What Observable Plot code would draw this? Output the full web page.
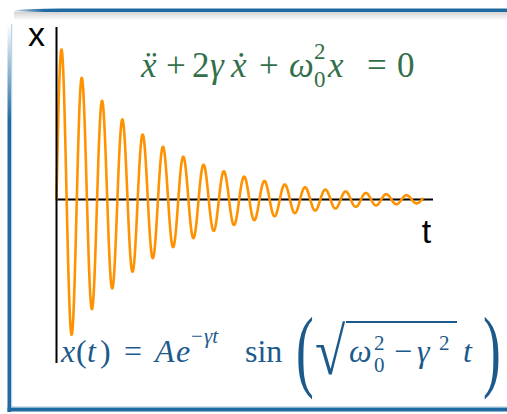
<!DOCTYPE html>
<html>
<head>
<meta charset="utf-8">
<script src="https://cdn.jsdelivr.net/npm/d3@7"></script>
<script src="https://cdn.jsdelivr.net/npm/@observablehq/plot@0.6"></script>
<style>
  html, body { margin: 0; padding: 0; background: #fff; }
  #chart svg { display: block; }
</style>
</head>
<body>
<div id="chart"></div>
<script>
// Damped harmonic oscillator: x(t) = A e^{-γt} sin(√(ω0² − γ²) t)
const amplitude = 1;          // A
const gamma = 0.388;          // γ, damping rate
const omegaDamped = 11.67;    // √(ω0² − γ²)
const tSpan = [0, 9.71];      // time range of the trace
const tAxis = [0, 10];        // extent of the t axis
const xAxis = [-1.038, 1.089];// extent of the x axis
const axisLabels = ["x", "t"];

const orange = "#ff9200";
const green = "#33704a";
const blue = "#1d5a8c";
const frameBlue = "#1f6aa0";

// trace sampled along the time span using the stated solution
const trace = d3.range(tSpan[0], tSpan[1], 0.004).concat([tSpan[1]]).map(t => ({
  t,
  x: amplitude * Math.exp(-gamma * t) * Math.sin(omegaDamped * t)
}));

const plot = Plot.plot({
  width: 507,
  height: 414,
  margin: 0,
  style: {background: "transparent", overflow: "visible"},
  x: {domain: tAxis, range: [56, 433], axis: null},
  y: {domain: xAxis, range: [363, 27], axis: null},
  marks: [
    Plot.ruleY([0], {x1: tAxis[0], x2: tAxis[1], stroke: "#000", strokeWidth: 2}),
    Plot.line(trace, {x: "t", y: "x", stroke: orange, strokeWidth: 2.6, curve: "linear"}),
    Plot.ruleX([0], {y1: xAxis[0], y2: xAxis[1], stroke: "#000", strokeWidth: 2}),
    Plot.text([axisLabels[0]], {
      x: tAxis[0], y: xAxis[1], text: d => d, dx: -20, dy: 8,
      fontSize: 34, fontFamily: "Liberation Sans, Arial, sans-serif", fill: "#000"
    }),
    Plot.text([axisLabels[1]], {
      x: tAxis[1], y: 0, text: d => d, dx: -7, dy: 33,
      fontSize: 34, fontFamily: "Liberation Sans, Arial, sans-serif", fill: "#000"
    })
  ]
});

document.getElementById("chart").appendChild(plot);

const svg = d3.select(plot);
const serif = "Liberation Serif, Times New Roman, serif";

// ---- frame around the panel ----
const defs = svg.insert("defs", ":first-child");
const shade = defs.append("linearGradient").attr("id", "topShade").attr("x1", 0).attr("y1", 0).attr("x2", 0).attr("y2", 1);
shade.append("stop").attr("offset", 0).attr("stop-color", "#000").attr("stop-opacity", 0.18);
shade.append("stop").attr("offset", 1).attr("stop-color", "#000").attr("stop-opacity", 0);
const leftFade = defs.append("linearGradient").attr("id", "leftFade").attr("x1", 0).attr("y1", 0).attr("x2", 0).attr("y2", 1);
leftFade.append("stop").attr("offset", 0).attr("stop-color", frameBlue).attr("stop-opacity", 0);
leftFade.append("stop").attr("offset", 0.25).attr("stop-color", frameBlue).attr("stop-opacity", 1);
leftFade.append("stop").attr("offset", 1).attr("stop-color", frameBlue).attr("stop-opacity", 1);
const topFade = defs.append("linearGradient").attr("id", "topFade").attr("x1", 0).attr("y1", 0).attr("x2", 1).attr("y2", 0);
topFade.append("stop").attr("offset", 0).attr("stop-color", frameBlue).attr("stop-opacity", 0.3);
topFade.append("stop").attr("offset", 0.06).attr("stop-color", frameBlue).attr("stop-opacity", 1);
topFade.append("stop").attr("offset", 1).attr("stop-color", frameBlue).attr("stop-opacity", 1);

const frame = svg.insert("g", ":first-child").attr("class", "panel-frame");
frame.append("rect").attr("x", 14).attr("y", 11.5).attr("width", 493).attr("height", 9).attr("fill", "url(#topShade)");
frame.append("path").attr("d", "M14,10.5 Q30,8.6 60,8.6 L507,8.6 L507,12 L60,12 Q30,12 14,10.5 Z").attr("fill", "url(#topFade)");
frame.append("rect").attr("x", 7.5).attr("y", 24).attr("width", 3.5).attr("height", 388).attr("fill", "url(#leftFade)");
frame.append("rect").attr("x", 11).attr("y", 24).attr("width", 1.2).attr("height", 383).attr("fill", "#8fb6d4").attr("opacity", 0.6);
frame.append("rect").attr("x", 7.5).attr("y", 407.5).attr("width", 500).attr("height", 4).attr("fill", frameBlue);
frame.append("rect").attr("x", 11).attr("y", 406.3).attr("width", 496).attr("height", 1.2).attr("fill", "#8fb6d4").attr("opacity", 0.6);

// ---- typeset pieces, each placed by its left edge ----
function piece(g, p, base, color, size) {
  g.append("text")
    .attr("x", p.x)
    .attr("y", base + (p.dy || 0))
    .attr("text-anchor", "start")
    .attr("font-family", serif)
    .attr("font-size", p.size || size)
    .attr("font-style", p.it ? "italic" : "normal")
    .attr("fill", color)
    .text(p.t);
}

// equation of motion
const eqMotion = [
  {t: "ẍ", x: 141, it: true},
  {t: "+", x: 166},
  {t: "2", x: 192},
  {t: "γ", x: 210, it: true},
  {t: "ẋ", x: 231, it: true},
  {t: "+", x: 259},
  {t: "ω", x: 289, it: true},
  {t: "2", x: 314, size: 23, dy: -18},
  {t: "0", x: 314, size: 23, dy: 10},
  {t: "x", x: 328, it: true},
  {t: "=", x: 367},
  {t: "0", x: 397}
];
const g1 = svg.append("g").attr("class", "eq-motion");
eqMotion.forEach(p => piece(g1, p, 77, green, 35));

// solution
const eqSolution = [
  {t: "x", x: 61, it: true},
  {t: "(", x: 76},
  {t: "t", x: 87, it: true},
  {t: ")", x: 100},
  {t: "=", x: 124},
  {t: "A", x: 155, it: true},
  {t: "e", x: 176, it: true},
  {t: "−", x: 191, size: 21, dy: -19},
  {t: "γt", x: 204, size: 21, dy: -19, it: true},
  {t: "sin", x: 245},
  {t: "ω", x: 349, it: true},
  {t: "2", x: 374, size: 21, dy: -12},
  {t: "0", x: 374, size: 21, dy: 10},
  {t: "−", x: 394},
  {t: "γ", x: 417, it: true},
  {t: "2", x: 439, size: 21, dy: -12},
  {t: "t", x: 463, it: true}
];
const g2 = svg.append("g").attr("class", "eq-solution");
eqSolution.forEach(p => piece(g2, p, 362, blue, 32));

// large delimiters and radical
function bigGlyph(g, t, tx, ty, sx, sy, size) {
  g.append("text")
    .attr("transform", `translate(${tx},${ty}) scale(${sx},${sy})`)
    .attr("text-anchor", "start")
    .attr("font-family", serif)
    .attr("font-size", size)
    .attr("fill", blue)
    .text(t);
}
bigGlyph(g2, "(", 296, 380, 0.58, 1, 92);
bigGlyph(g2, ")", 483, 380, 0.58, 1, 92);
bigGlyph(g2, "√", 315, 374, 0.95, 1.15, 58);
g2.append("line").attr("x1", 346).attr("x2", 457).attr("y1", 322).attr("y2", 322)
  .attr("stroke", blue).attr("stroke-width", 2);
</script>
</body>
</html>
